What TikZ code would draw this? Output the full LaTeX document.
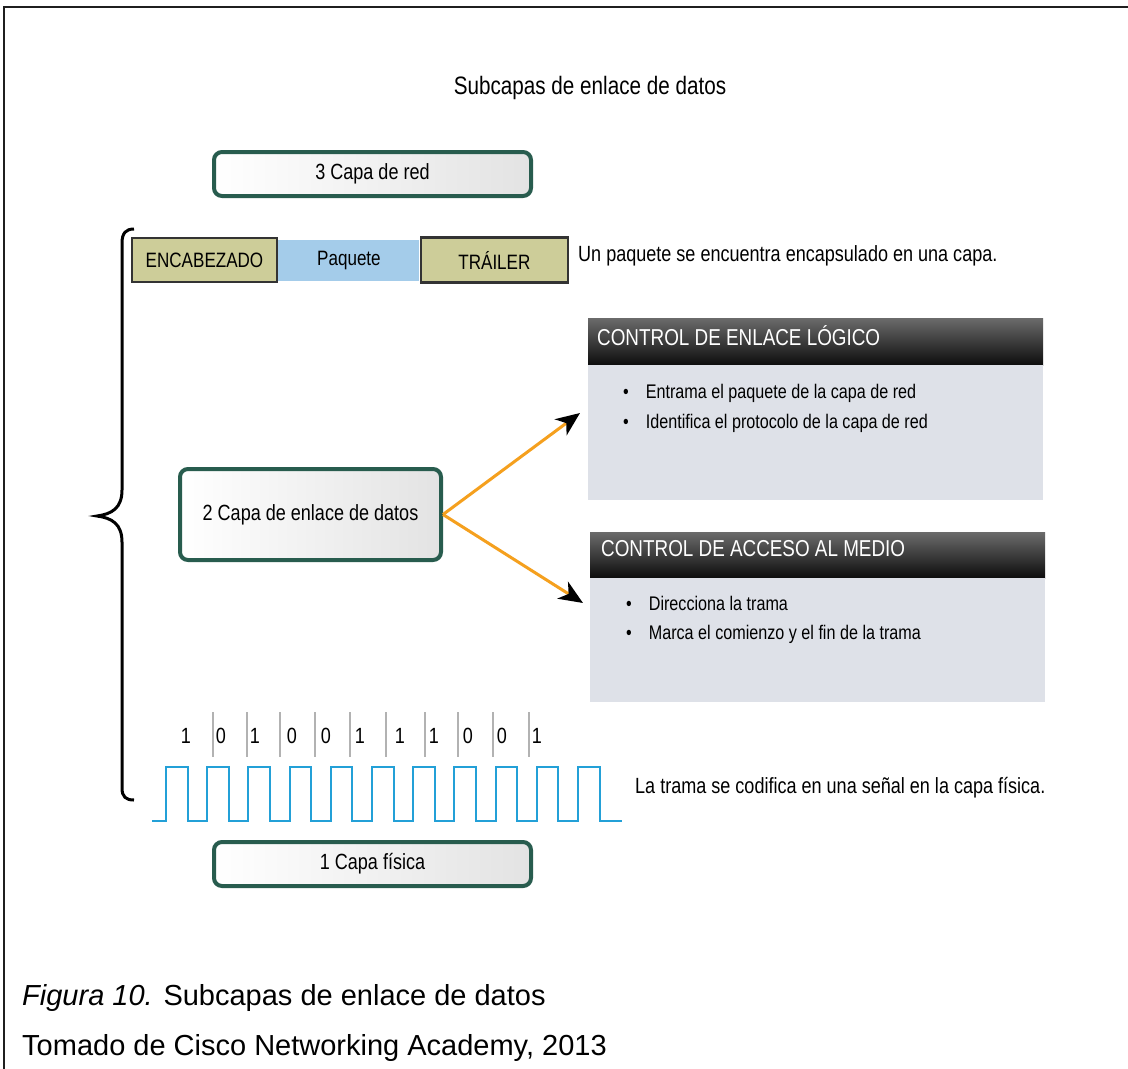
\documentclass[tikz,border=0pt]{standalone}
\usepackage{fontspec}
\setmainfont{Liberation Sans}
\newfontfamily\narrow[FakeStretch=0.82]{Liberation Sans}
\usetikzlibrary{arrows.meta}

\definecolor{layerframe}{RGB}{40,92,78}
\definecolor{fieldolive}{RGB}{205,205,153}
\definecolor{pktblue}{RGB}{164,204,234}
\definecolor{panelbg}{RGB}{222,225,232}
\definecolor{arroworange}{RGB}{245,160,30}
\definecolor{signalblue}{RGB}{35,160,215}

\newcommand{\fs}[1]{\fontsize{#1}{#1}\selectfont}

\tikzset{
  layerbox/.style={draw=layerframe, line width=4, rounded corners=8,
    left color=white, right color=black!11, inner sep=0,
    font=\narrow\fs{22}},
  fieldbox/.style={draw=black!80, line width=2.5, fill=fieldolive,
    inner sep=0, font=\narrow\fs{20.8}},
  payload/.style={fill=pktblue, inner sep=0, font=\narrow\fs{20.8}},
  panelhead/.style={top color=black!58, bottom color=black!95, draw=none, inner sep=0},
  panelbody/.style={fill=panelbg, draw=none, inner sep=0},
  headtext/.style={text=white, inner sep=0, font=\narrow\fs{23}},
  itemtext/.style={inner sep=0, font=\narrow\fs{19.7}},
  plaintext/.style={inner sep=0, font=\narrow\fs{22}},
  bitlabel/.style={inner sep=0, font=\narrow\fs{22}},
  bitsep/.style={draw=black!30, line width=1.5},
  signal/.style={draw=signalblue, line width=2},
  sublayer/.style={draw=arroworange, line width=3,
    -{Stealth[length=24, width=20, inset=7, color=black]}},
  captext/.style={inner sep=0, font=\fs{29}},
}

\begin{document}
\begin{tikzpicture}[x=1pt, y=-1pt]
  \useasboundingbox (0,0) rectangle (1128,1069);
  \fill[white] (0,0) rectangle (1128,1069);

  % page frame (top and left rules)
  \draw[black!88, line width=2.5] (4,1069) -- (4,7) -- (1128,7);

  % title
  \node[plaintext, font=\narrow\fs{25.2}] (title) at (590,88) {Subcapas de enlace de datos};

  % network layer
  \node[layerbox, minimum width=317, minimum height=44] (red) at (372.5,174) {3 Capa de red};

  % packet with header and trailer
  \node[fieldbox, minimum width=145, minimum height=44] (hdr) at (204.5,260) {ENCABEZADO};
  \node[payload, minimum width=141, minimum height=41, anchor=west] (pkt) at (hdr.east) {Paquete};
  \node[fieldbox, minimum width=147, minimum height=45, anchor=west] (trl) at (pkt.east) {TRÁILER};
  \node[plaintext, anchor=west] (pktnote) at (578,256) {Un paquete se encuentra encapsulado en una capa.};

  % brace spanning the data link layer
  \draw[black, line width=3]
    (134,229) .. controls (126,229) and (122,233) .. (122,243)
    -- (122,490) .. controls (122,508) and (112,514) .. (97,516)
    .. controls (112,518) and (122,524) .. (122,542)
    -- (122,788) .. controls (122,797) and (126,800) .. (134,800);

  % data link layer
  \node[layerbox, minimum width=261, minimum height=91] (enlace) at (310.5,514.5) {2 Capa de enlace de datos};

  % LLC sublayer panel
  \node[panelhead, minimum width=455, minimum height=47] (llchead) at (815.5,341.5) {};
  \node[panelbody, minimum width=455, minimum height=135, anchor=north] (llcbody) at (llchead.south) {};
  \node[headtext, anchor=west] (llctitle) at (597,336) {CONTROL DE ENLACE LÓGICO};
  \node[itemtext, anchor=west] (llcA) at (623,393) {•\hspace{17pt}Entrama el paquete de la capa de red};
  \node[itemtext, anchor=west] (llcB) at (623,423) {•\hspace{17pt}Identifica el protocolo de la capa de red};

  % MAC sublayer panel
  \node[panelhead, minimum width=455, minimum height=46] (machead) at (817.5,555) {};
  \node[panelbody, minimum width=455, minimum height=124, anchor=north] (macbody) at (machead.south) {};
  \node[headtext, anchor=west] (mactitle) at (601,549) {CONTROL DE ACCESO AL MEDIO};
  \node[itemtext, anchor=west] (macA) at (626,603) {•\hspace{17pt}Direcciona la trama};
  \node[itemtext, anchor=west] (macB) at (626,634) {•\hspace{17pt}Marca el comienzo y el fin de la trama};

  % split of the data link layer into its two sublayers
  \coordinate (llctip) at (580,413);
  \coordinate (mactip) at (583,603);
  \draw[sublayer] (enlace.east) -- (llctip);
  \draw[sublayer] (enlace.east) -- (mactip);

  % bit sequence
  \foreach \b [count=\k] in {1,0,1,0,0,1,1,1,0,0,1} {
    \pgfmathsetmacro{\bx}{{186,221,255,292,326,360,400,434,468,502,537}[\k-1]}
    \node[bitlabel] (bit\k) at (\bx,736) {\b};
  }
  \foreach \sx in {213,247,280,315,350,386,425,458,493,529}
    \draw[bitsep] (\sx,712) -- (\sx,757);

  % encoded signal
  \draw[signal] (152,821)
    \foreach \i in {0,...,10} {
      -- ({166+41.2*\i},821) -- ({166+41.2*\i},767)
      -- ({187.5+41.2*\i},767) -- ({187.5+41.2*\i},821)
    } -- (622,821);
  \node[plaintext, anchor=west] (signote) at (635,788) {La trama se codifica en una señal en la capa física.};

  % physical layer
  \node[layerbox, minimum width=317, minimum height=44] (fisica) at (372.5,864) {1 Capa física};

  % caption
  \node[captext, anchor=base west] (cap1) at (22,1005) {\textit{Figura 10.} Subcapas de enlace de datos};
  \node[captext, anchor=base west] (cap2) at (22,1055) {Tomado de Cisco Networking Academy, 2013};
\end{tikzpicture}
\end{document}
